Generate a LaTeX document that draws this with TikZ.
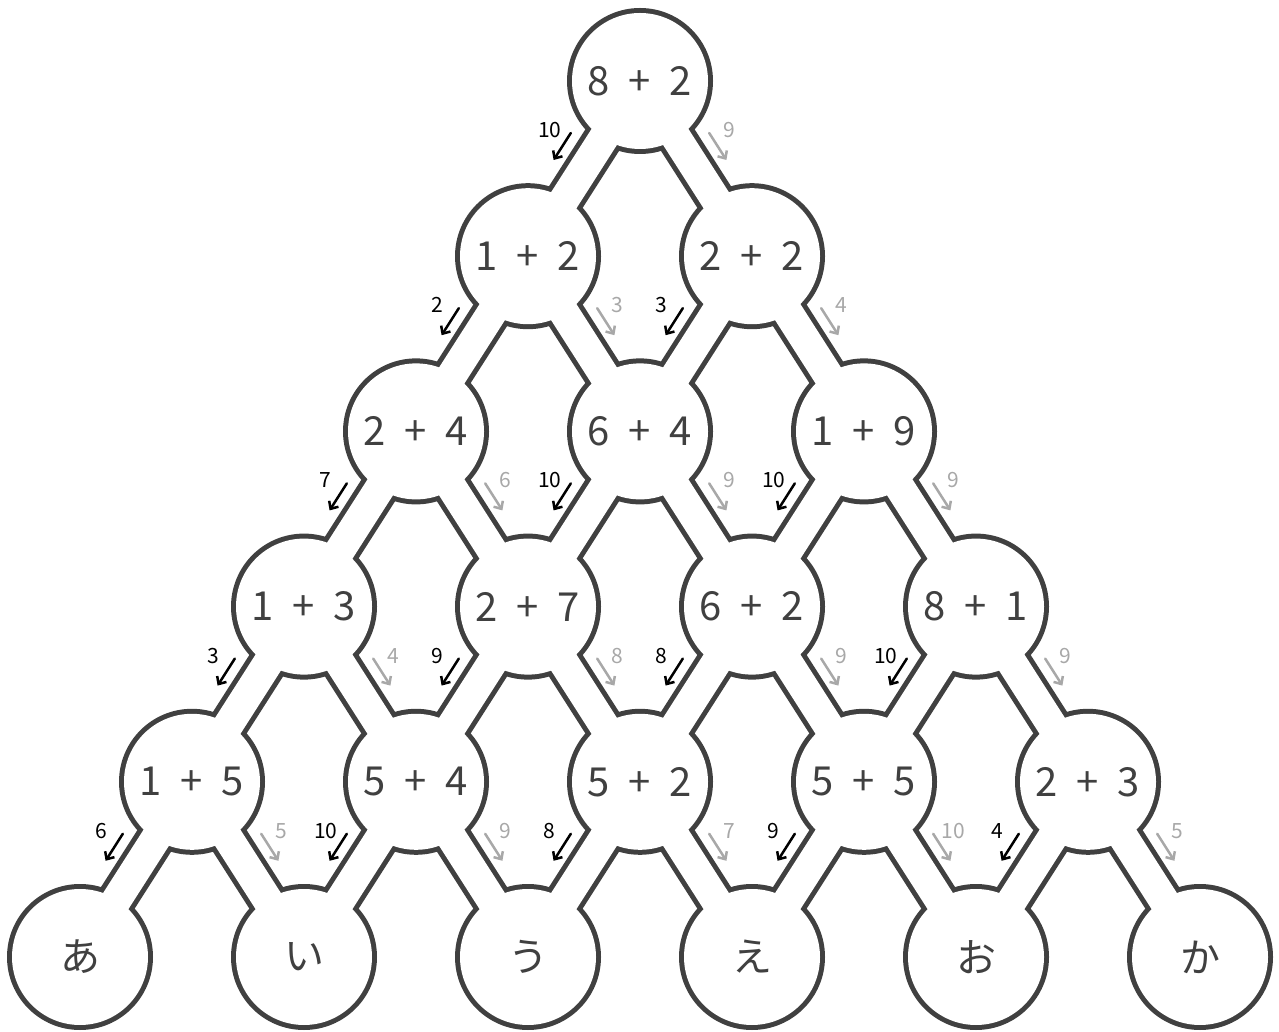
\documentclass[tikz,border=0pt]{standalone}
\usepackage{fontspec}
\setmainfont[WordSpace=2.1]{Noto Sans CJK JP}
\usetikzlibrary{arrows.meta,calc}
\definecolor{ink}{HTML}{404040}
\definecolor{pale}{HTML}{A8A8A8}
\tikzset{
  lbl/.style={text=ink,font=\fontsize{40}{40}\selectfont,inner sep=0pt},
  num/.style={font=\fontsize{21}{21}\selectfont,inner sep=0pt},
  go/.style={line width=2.5pt,line cap=round,-{Straight Barb[length=6pt,width=11pt]}}
}
\begin{document}
\begin{tikzpicture}[x=1pt,y=1pt]
\useasboundingbox (0,0) rectangle (1279,1031);
% centres of the rooms
\foreach \r in {0,...,5}
  \foreach \k in {0,...,\r}
    \coordinate (c\r\k) at ({640+(2*\k-\r)*112},{950-\r*175.2});
% dark pass, then white pass on top leaves the outline
\foreach \r in {0,...,5}
  \foreach \k in {0,...,\r}
    \fill[ink] (c\r\k) circle (73);
\foreach \r in {0,...,4}
  \foreach \k in {0,...,\r}{
    \pgfmathtruncatemacro\nr{\r+1}
    \pgfmathtruncatemacro\nk{\k+1}
    \draw[ink,line width=40pt] (c\r\k)--(c\nr\k);
    \draw[ink,line width=40pt] (c\r\k)--(c\nr\nk);}
\foreach \r in {0,...,5}
  \foreach \k in {0,...,\r}
    \fill[white] (c\r\k) circle (68);
\foreach \r in {0,...,4}
  \foreach \k in {0,...,\r}{
    \pgfmathtruncatemacro\nr{\r+1}
    \pgfmathtruncatemacro\nk{\k+1}
    \draw[white,line width=30pt] (c\r\k)--(c\nr\k);
    \draw[white,line width=30pt] (c\r\k)--(c\nr\nk);}
% labels
\foreach \r/\k/\txt in {0/0/8 + 2,1/0/1 + 2,1/1/2 + 2,2/0/2 + 4,2/1/6 + 4,2/2/1 + 9,
  3/0/1 + 3,3/1/2 + 7,3/2/6 + 2,3/3/8 + 1,4/0/1 + 5,4/1/5 + 4,4/2/5 + 2,4/3/5 + 5,4/4/2 + 3,
  5/0/あ,5/1/い,5/2/う,5/3/え,5/4/お,5/5/か}
  \node[lbl] (n\r\k) at (c\r\k) {\txt};
% small arrows: black left, grey right
\foreach \r/\k/\b/\g in {0/0/10/9,1/0/2/3,1/1/3/4,2/0/7/6,2/1/10/9,2/2/10/9,
  3/0/3/4,3/1/9/8,3/2/8/9,3/3/10/9,4/0/6/5,4/1/10/9,4/2/8/7,4/3/9/10,4/4/4/5}{
  \coordinate (bs\r\k) at ($(c\r\k)+(-69.2,-52)$);
  \coordinate (be\r\k) at ($(c\r\k)+(-86.4,-79)$);
  \draw[go,black] (bs\r\k)--(be\r\k);
  \node[num,text=black] (bn\r\k) at ($(bs\r\k)+(-21,3)$) {\b};
  \coordinate (gs\r\k) at ($(c\r\k)+(69.2,-52)$);
  \coordinate (ge\r\k) at ($(c\r\k)+(86.4,-79)$);
  \draw[go,pale] (gs\r\k)--(ge\r\k);
  \node[num,text=pale] (gn\r\k) at ($(gs\r\k)+(20,3)$) {\g};}
\end{tikzpicture}
\end{document}
